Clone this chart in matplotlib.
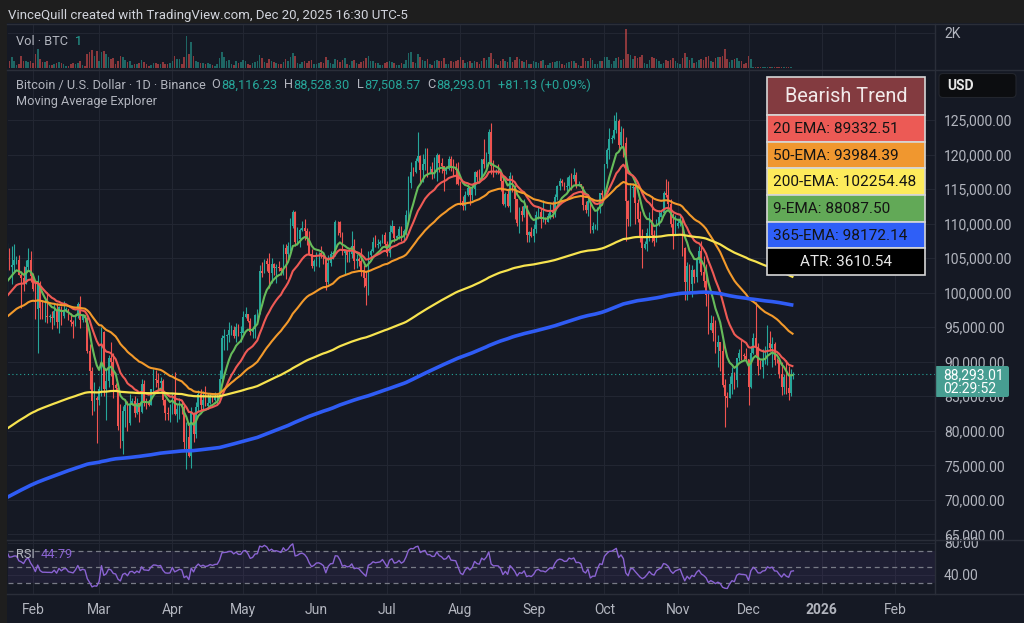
import numpy as np
import pandas as pd
import matplotlib
matplotlib.use("Agg")
import matplotlib.pyplot as plt
import matplotlib.dates as mdates
from matplotlib.patches import Rectangle, FancyBboxPatch

plt.rcParams['font.family'] = ['Roboto', 'DejaVu Sans']

# ---------------- data (prices in thousands USD) ----------------
start_date = "2025-01-21"
open_first = 102.3

close = [
    106.1, 103.7, 104.0, 104.7, 104.7, 102.6, 102.1, 101.3, 103.7, 104.7, 102.4,
    100.6, 97.7, 101.4, 97.8, 96.6, 96.6, 96.5, 96.5, 96.4, 97.4, 95.8, 97.9, 96.6, 97.5, 97.6, 96.1, 95.8, 95.5, 96.6, 98.3, 96.1, 96.6, 96.3, 91.6, 88.7, 84.3, 84.7, 84.4,
    86.1, 94.3, 86.1, 87.2, 90.6, 89.9, 86.7, 86.2, 80.7, 78.5, 82.9, 83.7, 81.1, 83.9, 84.3, 82.6, 84.0, 82.7, 86.8, 84.2, 84.1, 83.8, 86.1, 87.5, 87.4, 86.9, 87.2, 84.4, 82.6, 82.4, 82.5,
    85.2, 82.5, 83.1, 83.8, 83.5, 78.4, 79.1, 76.3, 82.6, 79.6, 83.4, 85.3, 83.7, 84.5, 83.6, 84.0, 84.9, 84.4, 85.0, 85.1, 87.5, 93.4, 93.7, 93.9, 94.6, 94.6, 93.7, 95.0, 94.2, 94.2,
    96.5, 96.9, 95.9, 94.3, 94.8, 96.8, 97.0, 103.2, 102.9, 104.6, 104.1, 102.8, 104.1, 103.5, 103.7, 103.5, 103.2, 106.5, 105.6, 106.8, 109.7, 111.7, 107.3, 107.8, 109.0, 109.4, 108.9, 107.8, 105.6, 103.9, 104.6,
    105.7, 105.8, 105.4, 104.7, 101.5, 104.3, 105.6, 105.7, 110.3, 110.2, 108.6, 105.7, 106.1, 105.4, 105.6, 106.8, 104.6, 104.9, 104.6, 103.3, 102.1, 100.9, 105.5, 106.1, 107.3, 106.9, 107.1, 107.3, 108.4, 107.1,
    105.7, 108.8, 109.6, 107.9, 108.2, 109.2, 108.2, 108.9, 111.3, 115.9, 117.5, 117.4, 119.1, 119.8, 117.7, 118.7, 119.3, 117.9, 117.9, 117.3, 117.4, 119.9, 118.8, 118.4, 117.6, 117.9, 119.4, 118.0, 117.9, 117.8, 115.8,
    113.3, 112.6, 114.2, 115.1, 114.1, 115.0, 117.5, 116.7, 116.5, 119.3, 118.7, 120.1, 123.3, 118.4, 117.4, 117.5, 117.4, 116.2, 112.9, 114.3, 112.5, 116.9, 115.4, 113.5, 110.1, 111.8, 111.3, 112.6, 108.4, 108.8, 108.2,
    109.2, 111.2, 111.7, 110.7, 110.7, 110.2, 111.1, 112.0, 111.5, 113.9, 115.5, 116.1, 115.9, 115.3, 115.4, 116.8, 116.5, 117.0, 115.6, 115.7, 115.3, 112.7, 112.0, 113.3, 109.0, 109.6, 109.6, 112.2, 114.4, 114.1,
    118.6, 120.6, 122.3, 122.4, 123.5, 124.8, 121.4, 123.3, 121.7, 113.2, 110.6, 115.2, 115.3, 113.0, 110.7, 108.2, 106.4, 107.1, 108.6, 110.5, 108.4, 107.5, 110.0, 111.0, 111.6, 114.5, 114.1, 112.9, 110.0, 108.3, 109.6,
    110.1, 110.6, 106.5, 101.5, 103.9, 101.3, 103.3, 102.3, 104.7, 106.0, 103.0, 101.7, 99.7, 94.6, 95.6, 94.2, 92.2, 92.9, 91.5, 86.6, 85.1, 84.7, 86.8, 88.3, 87.3, 90.5, 91.3, 90.9, 90.8, 90.4,
    86.3, 91.3, 93.5, 92.1, 89.4, 89.3, 90.4, 90.6, 92.7, 92.0, 92.5, 90.3, 90.2, 88.2, 86.4, 87.8, 86.2, 85.5, 88.116, 88.293,
]

high = [
    107.2, 106.4, 106.8, 107.1, 105.3, 105.5, 103.2, 103.8, 104.8, 106.5, 106.0,
    102.8, 101.5, 102.5, 101.7, 99.0, 99.2, 100.1, 96.9, 97.3, 98.3, 98.5, 98.1, 98.0, 98.8, 97.9, 97.7, 97.0, 96.1, 96.9, 98.7, 99.5, 96.9, 96.7, 96.5, 92.5, 89.3, 87.1, 85.1,
    86.5, 95.0, 94.4, 88.9, 91.0, 92.8, 91.2, 86.9, 86.4, 83.9, 83.6, 84.4, 84.3, 85.3, 84.7, 85.0, 84.7, 84.0, 87.5, 87.4, 84.8, 84.5, 86.1, 89.0, 88.8, 88.3, 87.8, 87.5, 84.6, 83.5, 83.9,
    85.5, 88.5, 83.9, 84.7, 84.2, 83.8, 81.2, 80.8, 83.5, 82.7, 84.2, 85.9, 86.0, 85.8, 86.5, 85.5, 85.5, 85.1, 85.6, 85.3, 88.8, 93.9, 94.7, 94.0, 95.7, 95.3, 95.1, 95.6, 95.5, 95.2,
    97.4, 97.9, 96.9, 96.3, 95.2, 96.9, 97.7, 104.0, 104.4, 104.9, 105.0, 105.8, 105.0, 104.3, 104.2, 104.6, 103.7, 107.0, 107.1, 107.3, 110.8, 111.9, 111.8, 109.5, 109.3, 110.4, 110.7, 109.3, 108.9, 106.3, 104.9,
    105.9, 105.9, 106.8, 105.9, 105.0, 105.4, 106.0, 106.0, 110.5, 110.4, 110.4, 108.8, 106.2, 106.2, 106.1, 108.9, 107.8, 105.6, 105.2, 106.5, 104.0, 103.1, 106.1, 106.3, 108.1, 108.3, 107.8, 107.6, 108.5, 108.8,
    107.5, 109.8, 110.5, 109.7, 108.4, 109.7, 109.7, 109.2, 111.9, 116.9, 118.9, 118.2, 119.5, 123.2, 119.9, 120.1, 120.9, 120.9, 118.3, 118.9, 119.7, 120.2, 120.1, 119.5, 118.4, 118.4, 119.8, 119.8, 119.3, 118.8, 118.9,
    116.1, 114.0, 114.7, 115.7, 115.1, 115.7, 117.6, 117.7, 117.9, 119.3, 122.3, 120.3, 123.7, 124.5, 119.2, 117.9, 118.6, 117.6, 116.8, 114.6, 114.8, 117.4, 117.0, 115.6, 113.5, 112.4, 112.6, 113.5, 112.7, 108.9, 109.5,
    109.9, 111.8, 112.6, 112.2, 113.4, 111.0, 111.6, 112.9, 113.2, 114.3, 115.6, 116.6, 116.4, 116.0, 116.8, 117.0, 117.3, 118.0, 117.5, 116.2, 115.8, 115.4, 113.3, 114.0, 113.5, 110.3, 110.0, 112.4, 114.5, 114.8,
    118.7, 121.0, 123.9, 122.9, 125.7, 126.2, 125.1, 124.2, 123.8, 122.6, 113.4, 115.9, 115.9, 115.6, 113.6, 111.8, 109.2, 107.5, 109.4, 111.7, 114.0, 109.1, 110.6, 112.0, 111.9, 114.7, 116.4, 116.1, 113.6, 111.6, 111.2,
    110.6, 111.2, 110.8, 106.6, 104.5, 104.2, 104.0, 103.4, 105.0, 106.7, 107.5, 105.3, 104.1, 99.9, 96.8, 96.6, 96.0, 93.8, 92.9, 93.2, 87.5, 85.6, 88.0, 89.2, 88.5, 90.6, 91.9, 93.1, 91.2, 92.0,
    90.4, 92.3, 94.2, 98.7, 92.7, 90.3, 91.8, 92.3, 95.3, 94.5, 93.6, 92.8, 90.6, 90.5, 90.0, 88.2, 90.3, 89.4, 89.0, 88.528,
]

low = [
    100.1, 103.3, 101.2, 102.8, 104.1, 102.5, 97.8, 100.3, 101.3, 103.3, 101.6,
    100.3, 96.2, 91.2, 96.2, 96.2, 95.7, 95.6, 95.7, 94.7, 95.3, 94.9, 94.1, 95.3, 96.3, 97.2, 96.0, 95.2, 93.4, 95.2, 96.4, 94.9, 95.8, 95.8, 91.2, 86.1, 82.3, 82.8, 78.2,
    83.8, 85.1, 85.1, 81.5, 86.3, 87.9, 84.7, 85.9, 80.1, 77.5, 76.6, 80.6, 79.9, 80.8, 83.7, 82.0, 82.5, 81.2, 82.6, 83.6, 83.2, 83.6, 83.8, 85.5, 86.3, 85.9, 85.8, 83.7, 81.6, 81.6, 81.3,
    82.4, 82.3, 81.2, 81.7, 82.4, 77.2, 74.5, 76.2, 74.6, 78.4, 78.9, 82.8, 83.0, 83.2, 83.6, 83.1, 83.9, 84.1, 84.3, 83.9, 85.1, 87.0, 91.7, 91.7, 92.9, 93.9, 93.4, 92.9, 93.7, 92.9,
    94.1, 96.3, 95.7, 93.9, 93.5, 93.4, 95.8, 96.9, 102.3, 102.8, 103.1, 100.7, 101.4, 102.6, 101.4, 103.1, 102.6, 102.6, 102.0, 104.9, 106.1, 109.3, 106.8, 106.9, 106.6, 108.9, 107.6, 106.9, 105.4, 103.6, 103.1,
    103.9, 103.7, 105.0, 104.2, 100.4, 101.3, 103.9, 104.9, 105.3, 108.4, 108.1, 105.4, 102.7, 104.4, 104.5, 105.0, 103.4, 103.5, 103.9, 102.4, 100.8, 98.2, 99.6, 104.7, 105.9, 106.6, 106.4, 106.8, 107.2, 106.8,
    105.3, 105.1, 108.6, 107.3, 107.8, 107.8, 107.5, 107.4, 108.4, 110.6, 115.2, 116.9, 117.3, 118.9, 115.7, 116.0, 117.8, 116.8, 117.3, 116.5, 116.6, 116.2, 117.4, 117.3, 114.7, 117.2, 117.8, 117.6, 116.9, 115.7, 115.6,
    112.7, 112.0, 112.0, 114.0, 112.7, 113.4, 114.2, 115.9, 116.3, 116.5, 118.1, 118.2, 118.9, 117.2, 116.8, 117.2, 117.2, 114.7, 112.7, 112.4, 112.4, 111.7, 114.6, 110.7, 109.7, 108.7, 110.4, 110.9, 107.4, 107.4, 108.1,
    107.3, 108.7, 110.6, 109.3, 110.2, 110.0, 110.2, 110.6, 110.8, 110.9, 113.4, 114.8, 115.4, 114.8, 114.4, 114.8, 114.8, 116.2, 115.2, 115.5, 115.2, 112.0, 111.5, 111.1, 108.6, 108.6, 109.2, 109.1, 111.6, 112.7,
    113.9, 118.0, 119.3, 121.6, 122.2, 123.1, 120.6, 121.1, 119.7, 107.5, 109.6, 109.7, 113.8, 110.0, 110.2, 107.4, 103.5, 106.3, 106.1, 107.5, 107.4, 106.7, 107.4, 109.6, 110.9, 111.2, 113.9, 112.2, 109.5, 106.3, 108.6,
    109.4, 109.6, 105.3, 98.9, 98.9, 100.3, 99.3, 101.4, 101.5, 104.3, 102.5, 100.8, 98.0, 94.0, 94.6, 93.0, 91.2, 89.3, 88.6, 86.3, 80.6, 83.5, 84.7, 85.3, 86.1, 86.3, 90.1, 90.2, 90.2, 90.3,
    83.8, 86.2, 91.1, 91.0, 88.1, 88.9, 87.7, 89.6, 89.5, 91.6, 89.3, 89.5, 89.8, 87.6, 85.2, 85.3, 85.3, 84.4, 85.1, 87.509,
]

volume = [
    450, 380, 600, 420, 180, 220, 700, 420, 380, 350, 380,
    300, 780, 1070, 500, 350, 320, 380, 150, 180, 250, 280, 320, 260, 240, 120, 130, 220, 300, 220, 280, 380, 150, 130, 820, 900, 1000, 700, 950,
    400, 900, 950, 800, 600, 500, 550, 200, 400, 700, 650, 450, 350, 400, 150, 200, 250, 280, 450, 350, 250, 120, 180, 300, 280, 220, 250, 350, 250, 220, 300,
    400, 700, 500, 520, 200, 650, 1800, 800, 1500, 700, 400, 350, 300, 280, 250, 300, 220, 150, 140, 200, 550, 920, 650, 400, 450, 200, 180, 400, 300, 320,
    450, 400, 200, 180, 280, 320, 380, 760, 550, 350, 300, 500, 400, 320, 300, 250, 200, 350, 500, 400, 650, 830, 700, 300, 250, 350, 380, 300, 400, 450, 250,
    200, 300, 320, 280, 600, 480, 300, 220, 500, 450, 350, 450, 550, 250, 180, 380, 450, 300, 250, 350, 420, 550, 700, 400, 380, 280, 300, 150, 180, 300,
    350, 420, 350, 300, 150, 180, 280, 250, 450, 830, 900, 350, 300, 780, 650, 450, 420, 500, 200, 180, 380, 450, 400, 380, 550, 200, 220, 400, 350, 420, 480,
    650, 450, 300, 350, 380, 300, 420, 350, 250, 400, 550, 450, 650, 870, 500, 200, 180, 400, 500, 420, 350, 600, 350, 450, 600, 500, 400, 350, 450, 200, 220,
    380, 350, 300, 380, 450, 150, 180, 280, 320, 350, 420, 400, 200, 180, 300, 350, 400, 380, 300, 150, 120, 550, 420, 380, 550, 450, 200, 250, 380, 420,
    650, 600, 450, 250, 400, 550, 600, 450, 500, 2200, 800, 750, 500, 700, 550, 600, 750, 300, 250, 450, 650, 550, 500, 400, 200, 300, 450, 400, 480, 550, 400,
    280, 250, 550, 870, 650, 450, 550, 300, 350, 450, 500, 450, 600, 700, 400, 350, 550, 650, 600, 700, 1070, 500, 350, 450, 500, 550, 380, 420, 250, 300,
    700, 520, 50, 55, 45, 35, 40, 50, 55, 50, 48, 45, 30, 35, 50, 45, 55, 50, 45, 1,
]

ema_periods = [9, 20, 50, 200, 365]
ema_seed = [101.6, 99.5, 96.5, 80.3, 70.35]       # EMA values on the first visible day
ema_colors = ['#66bb5a', '#ef5a55', '#f39a2b', '#f7e34f', '#2f5cf5']
ema_widths = [1.5, 1.5, 1.5, 1.6, 2.6]

rsi_seed_gain, rsi_seed_loss = 1.05, 0.63

month_ticks = ["2025-02-01", "2025-03-01", "2025-04-01", "2025-05-01", "2025-06-01", "2025-07-01",
               "2025-08-01", "2025-09-01", "2025-10-01", "2025-11-01", "2025-12-01", "2026-01-01", "2026-02-01"]
month_labels = ["Feb", "Mar", "Apr", "May", "Jun", "Jul", "Aug", "Sep", "Oct", "Nov", "Dec", "2026", "Feb"]
price_ticks = [65000, 70000, 75000, 80000, 85000, 90000, 95000, 100000, 105000, 110000, 115000, 120000, 125000]

last_ohlc = [88116.23, 88528.30, 87508.57, 88293.01]
last_change = [81.13, 0.09]
rsi_last = 44.79
table_names = ["20 EMA", "50-EMA", "200-EMA", "9-EMA", "365-EMA"]
table_values = [89332.51, 93984.39, 102254.48, 88087.50, 98172.14]
table_colors = ['#ec5a55', '#f0972f', '#fdeb5b', '#62a957', '#2f5ff7']
atr_value = 3610.54

n = len(close)
assert len(high) == n and len(low) == n and len(volume) == n, (n, len(high), len(low), len(volume))

# ---------------- derived series ----------------
c = np.array(close) * 1000
o = np.concatenate([[open_first], np.array(close[:-1])]) * 1000
h = np.maximum(np.array(high) * 1000, np.maximum(o, c))
l = np.minimum(np.array(low) * 1000, np.minimum(o, c))
v = np.array(volume, dtype=float)
dates = pd.date_range(start_date, periods=n, freq='D')
x = mdates.date2num(dates)
up = c >= o

def ema(vals, period, seed):
    a = 2.0 / (period + 1)
    out = np.empty(len(vals))
    e = seed
    for i, val in enumerate(vals):
        e = seed if i == 0 else a * val + (1 - a) * e
        out[i] = e
    return out

diffs = np.diff(np.concatenate([[open_first * 1000], c])) / 1000
ag, al = rsi_seed_gain, rsi_seed_loss
rsi = []
for d in diffs:
    ag = (ag * 13 + max(d, 0)) / 14
    al = (al * 13 + max(-d, 0)) / 14
    rsi.append(100 - 100 / (1 + ag / al))
rsi = np.array(rsi)

# ---------------- figure ----------------
W, H = 1024, 623
BG = '#151924'
GRID = '#222632'
SEP = '#2a2e39'
TXT = '#b2b5be'
UPC, DNC = '#26a69a', '#ef5350'
AX_FS = 10.0
LEG_FS = 9.2

fig = plt.figure(figsize=(W / 100, H / 100), dpi=100)
fig.patch.set_facecolor('#1e1e1e')
fig.patches.append(Rectangle((7 / W, 0), (W - 7) / W, (H - 23) / H, transform=fig.transFigure,
                             facecolor=BG, edgecolor='none', zorder=-5))

def fr(x0, y0, x1, y1):
    return [x0 / W, 1 - y1 / H, (x1 - x0) / W, (y1 - y0) / H]

ax_v = fig.add_axes(fr(8, 24, 935, 70))
ax_m = fig.add_axes(fr(8, 70, 935, 540))
ax_r = fig.add_axes(fr(8, 540, 935, 594))

x0 = x[0]
xl = (x0 + 0.42, x0 + 392.96)
tick_x = mdates.date2num(pd.to_datetime(month_ticks))

for ax in (ax_v, ax_m, ax_r):
    ax.set_facecolor(BG)
    ax.set_xlim(*xl)
    for s in ax.spines.values():
        s.set_visible(False)
    ax.set_xticks(tick_x)
    ax.grid(True, color=GRID, lw=0.8)
    ax.set_axisbelow(True)
    ax.yaxis.tick_right()
    ax.tick_params(axis='both', length=0, colors=TXT, labelsize=AX_FS)
    ax.tick_params(axis='y', pad=6.5)

# volume pane
ax_v.bar(x, v, width=0.68, color=np.where(up, UPC, DNC), alpha=0.55, linewidth=0)
ax_v.set_ylim(-113, 2493)
ax_v.set_yticks([2000])
ax_v.set_yticklabels(["2K"])
ax_v.set_xticklabels([])

# main pane
cols = np.where(up, UPC, DNC)
ax_m.vlines(x, l, h, colors=cols, lw=0.8, zorder=3)
ax_m.bar(x, np.maximum(np.abs(c - o), 60), bottom=np.minimum(o, c), width=0.68,
         color=cols, linewidth=0, zorder=3)
for per, sd, col, lw in zip(ema_periods, ema_seed, ema_colors, ema_widths):
    ax_m.plot(x, ema(c, per, sd * 1000), color=col, lw=lw, zorder=4, solid_capstyle='butt')
ax_m.axhline(last_ohlc[3], color=UPC, lw=0.8, ls=(0, (1, 2.5)), zorder=2)
ax_m.set_ylim(64184, 132240)
ax_m.set_yticks(price_ticks)
ax_m.set_yticklabels([f"{p:,.2f}" for p in price_ticks])
ax_m.set_xticklabels([])

# RSI pane
ax_r.axhspan(30, 70, color='#7e57c2', alpha=0.1, lw=0)
for lv in (70, 50, 30):
    ax_r.axhline(lv, color='#787b86', lw=0.9, ls=(0, (4, 3)))
ax_r.plot(x, rsi, color='#8a63d2', lw=1.0)
ax_r.set_ylim(15.9, 83.4)
ax_r.set_yticks([80, 40])
ax_r.set_yticklabels(["80.00", "40.00"])
ax_r.set_xticklabels(month_labels)
ax_r.tick_params(axis='x', pad=6.5, labelsize=10)
for t, lab in zip(ax_r.get_xticklabels(), month_labels):
    if lab == "2026":
        t.set_fontweight('bold')

# ---------------- overlay (pixel coordinates) ----------------
ov = fig.add_axes([0, 0, 1, 1], zorder=20)
ov.set_xlim(0, W)
ov.set_ylim(H, 0)
ov.axis('off')
ov.patch.set_alpha(0)

for yy in (23.5, 70, 540, 594):
    ov.plot([7, W], [yy, yy], color=SEP, lw=1)
ov.plot([935, 935], [23.5, 594], color=SEP, lw=1)

fig.canvas.draw()
rend = fig.canvas.get_renderer()

def chain(xs, y, parts, size):
    for s, col, gap, wt in parts:
        t = ov.text(xs, y, s, color=col, fontsize=size, va='center', ha='left', fontweight=wt)
        bb = t.get_window_extent(renderer=rend)
        xs += bb.width + gap
    return xs

ov.text(8, 15, "VinceQuill created with TradingView.com, Dec 20, 2025 16:30 UTC-5",
        color='#d1d4dc', fontsize=9.5, va='center', ha='left')

chain(16, 41.5, [("Vol · BTC", TXT, 7, 'normal'), ("1", UPC, 0, 'normal')], LEG_FS)

o_, h_, l_, c_ = last_ohlc
chain(16, 85, [("Bitcoin / U.S. Dollar · 1D · Binance", TXT, 6, 'normal'),
               ("O", TXT, 0.5, 'normal'), (f"{o_:,.2f}", UPC, 7, 'normal'),
               ("H", TXT, 0.5, 'normal'), (f"{h_:,.2f}", UPC, 7, 'normal'),
               ("L", TXT, 0.5, 'normal'), (f"{l_:,.2f}", UPC, 7, 'normal'),
               ("C", TXT, 0.5, 'normal'), (f"{c_:,.2f}", UPC, 6, 'normal'),
               (f"+{last_change[0]:.2f} (+{last_change[1]:.2f}%)", UPC, 0, 'normal')], LEG_FS)
ov.text(16, 101.5, "Moving Average Explorer", color=TXT, fontsize=LEG_FS, va='center', ha='left')

chain(16, 554.5, [("RSI", TXT, 6, 'normal'), (f"{rsi_last:.2f}", '#8a63d2', 0, 'normal')], LEG_FS)

# USD box
ov.add_patch(FancyBboxPatch((939, 73.5), 77, 24, boxstyle="round,pad=0,rounding_size=4",
                            facecolor='#0c0d10', edgecolor='#22252d', lw=0.8))
ov.text(947, 85.7, "USD", color='#e6e6e6', fontsize=10, va='center', ha='left', fontweight='semibold')

# current price label
ov.add_patch(FancyBboxPatch((935, 366), 74, 31, boxstyle="round,pad=0,rounding_size=2",
                            facecolor='#479e92', edgecolor='none'))
ov.text(943, 375, f"{c_:,.2f}", color='white', fontsize=AX_FS, va='center', ha='left')
ov.text(943, 389, "02:29:52", color='white', fontsize=AX_FS, va='center', ha='left')

# trend table
rows_y = [77.3, 115, 141.7, 168.3, 195, 221.7, 248.3, 275]
tx0, tx1 = 767, 925
ov.add_patch(Rectangle((tx0, rows_y[0]), tx1 - tx0, rows_y[1] - rows_y[0],
                       facecolor='#833b40', edgecolor='#d6d6d6', lw=1.2))
ov.text((tx0 + tx1) / 2, (rows_y[0] + rows_y[1]) / 2 + 0.5, "Bearish Trend",
        color='#f2eaea', fontsize=14.3, va='center', ha='center')
for i, (nm, val, col) in enumerate(zip(table_names, table_values, table_colors)):
    y0, y1 = rows_y[i + 1], rows_y[i + 2]
    ov.add_patch(Rectangle((tx0, y0), tx1 - tx0, y1 - y0, facecolor=col, edgecolor='#d6d6d6', lw=1.2))
    ov.text(tx0 + 6, (y0 + y1) / 2 + 0.5, f"{nm}: {val:.2f}", color='#141414',
            fontsize=11.1, va='center', ha='left')
y0, y1 = rows_y[6], rows_y[7]
ov.add_patch(Rectangle((tx0, y0), tx1 - tx0, y1 - y0, facecolor='black', edgecolor='#d6d6d6', lw=1.2))
ov.text((tx0 + tx1) / 2, (y0 + y1) / 2 + 0.5, f"ATR: {atr_value:.2f}", color='#e8e8e8',
        fontsize=11.1, va='center', ha='center')

fig.savefig("out.png", dpi=100, facecolor=fig.get_facecolor())
